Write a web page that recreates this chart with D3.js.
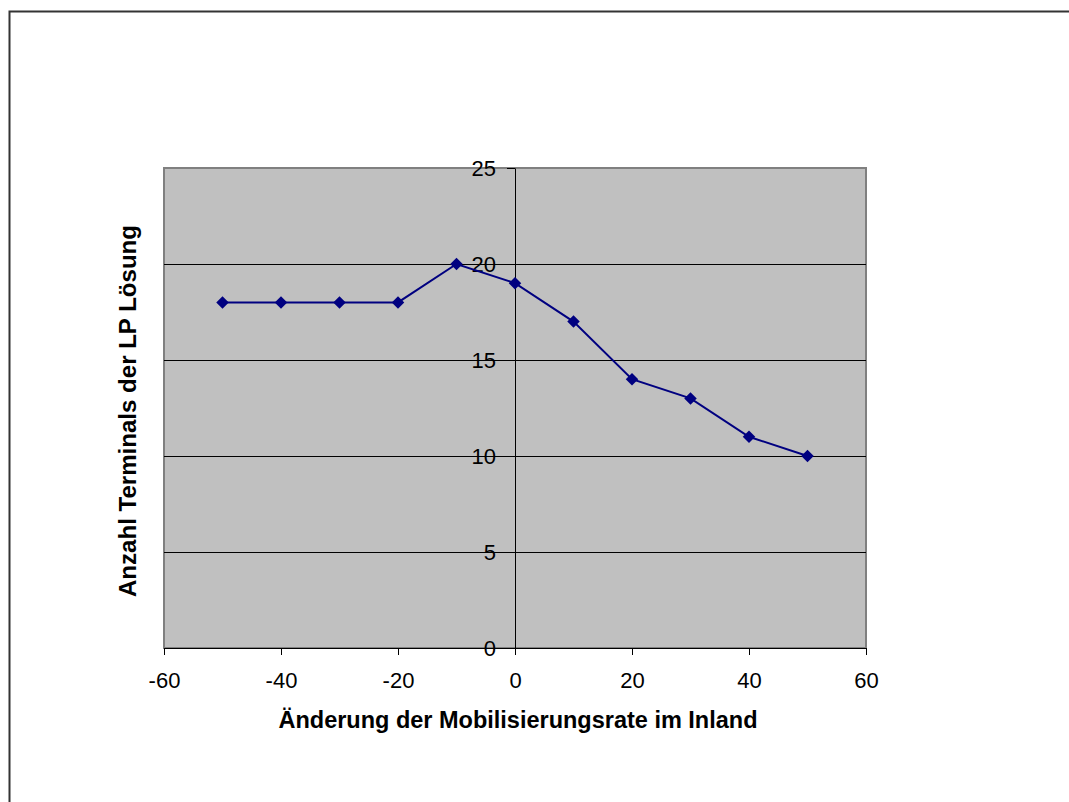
<!DOCTYPE html>
<html>
<head>
<meta charset="utf-8">
<script src="https://cdn.jsdelivr.net/npm/d3@7"></script>
<style>
  html, body { margin: 0; padding: 0; background: #fff; }
  svg { display: block; font-family: "Liberation Sans", Arial, sans-serif; }
</style>
</head>
<body>
<svg id="chart" width="1069" height="802"></svg>
<script>
// Änderung der Mobilisierungsrate (%) and resulting terminal count
const xValues = [-50, -40, -30, -20, -10, 0, 10, 20, 30, 40, 50];
const yValues = [18, 18, 18, 18, 20, 19, 17, 14, 13, 11, 10];
const xTicks = [-60, -40, -20, 0, 20, 40, 60];
const yTicks = [0, 5, 10, 15, 20, 25];
const xTitle = "Änderung der Mobilisierungsrate im Inland";
const yTitle = "Anzahl Terminals der LP Lösung";

const svg = d3.select("#chart");

// outer chart frame (runs past the right and bottom edges)
svg.append("rect")
  .attr("x", 9.5).attr("y", 11.5)
  .attr("width", 1100).attr("height", 820)
  .attr("fill", "#fff").attr("stroke", "#333").attr("stroke-width", 2);

const plot = { left: 164, right: 866, top: 168, bottom: 648 };

const x = d3.scaleLinear().domain([-60, 60]).range([plot.left, plot.right]);
const y = d3.scaleLinear().domain([0, 25]).range([plot.bottom, plot.top]);

// plot area background
svg.append("rect")
  .attr("x", plot.left).attr("y", plot.top)
  .attr("width", plot.right - plot.left).attr("height", plot.bottom - plot.top)
  .attr("fill", "#c0c0c0").attr("stroke", "#808080").attr("stroke-width", 2);

// horizontal gridlines
svg.append("g")
  .selectAll("line")
  .data(yTicks.filter(d => d > 0 && d < 25))
  .join("line")
  .attr("x1", plot.left).attr("x2", plot.right)
  .attr("y1", d => Math.round(y(d)) + 0.5).attr("y2", d => Math.round(y(d)) + 0.5)
  .attr("stroke", "#000").attr("stroke-width", 1);

const fmt = d => String(d);

// x axis along y = 0
const xAxis = svg.append("g")
  .attr("transform", `translate(0,${y(0)})`)
  .attr("font-family", "Liberation Sans, Arial, sans-serif")
  .attr("font-size", 22)
  .call(d3.axisBottom(x).tickValues(xTicks).tickSize(7).tickSizeOuter(0).tickPadding(17)
    .tickFormat(fmt));
xAxis.select(".domain").attr("stroke", "#000");
xAxis.selectAll(".tick line").attr("stroke", "#000");
xAxis.selectAll("text").attr("font-size", 22).attr("fill", "#000");

// y axis along x = 0
const yAxis = svg.append("g")
  .attr("transform", `translate(${x(0)},0)`)
  .attr("font-family", "Liberation Sans, Arial, sans-serif")
  .attr("font-size", 22)
  .call(d3.axisLeft(y).tickValues(yTicks).tickSize(8).tickSizeOuter(0).tickPadding(11)
    .tickFormat(fmt));
yAxis.select(".domain").attr("stroke", "#000");
yAxis.selectAll(".tick line").attr("stroke", "#000");
yAxis.selectAll("text").attr("font-size", 22).attr("fill", "#000");

// data series
const pts = xValues.map((v, i) => [v, yValues[i]]);
svg.append("path")
  .datum(pts)
  .attr("fill", "none").attr("stroke", "#000080").attr("stroke-width", 2)
  .attr("d", d3.line().x(d => x(d[0])).y(d => y(d[1])));

svg.append("g")
  .selectAll("path")
  .data(pts)
  .join("path")
  .attr("transform", d => `translate(${x(d[0])},${y(d[1])})`)
  .attr("d", d3.symbol().type(d3.symbolDiamond2).size(100))
  .attr("fill", "#000080");

// axis titles
svg.append("text")
  .attr("x", 518).attr("y", 728)
  .attr("text-anchor", "middle")
  .attr("font-size", 23.5).attr("font-weight", "bold")
  .attr("textLength", 479).attr("lengthAdjust", "spacingAndGlyphs")
  .text(xTitle);

svg.append("text")
  .attr("transform", `translate(136,411) rotate(-90)`)
  .attr("text-anchor", "middle")
  .attr("font-size", 23.5).attr("font-weight", "bold")
  .attr("textLength", 372).attr("lengthAdjust", "spacingAndGlyphs")
  .text(yTitle);
</script>
</body>
</html>
